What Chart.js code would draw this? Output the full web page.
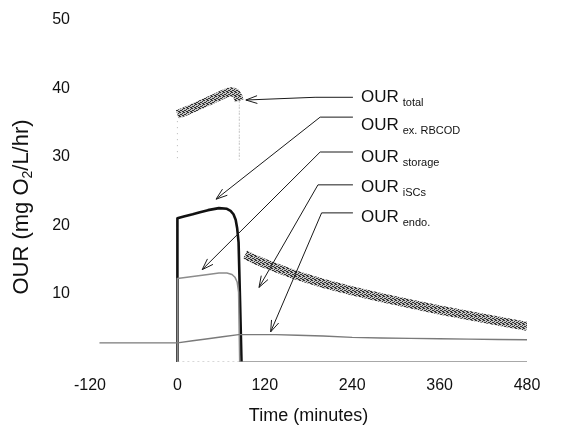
<!DOCTYPE html>
<html>
<head>
<meta charset="utf-8">
<script src="https://cdn.jsdelivr.net/npm/chart.js@4"></script>
<style>
  html, body { margin: 0; padding: 0; background: #fff; }
  #wrap { width: 566px; height: 430px; }
</style>
</head>
<body>
<div id="wrap"><canvas id="c"></canvas></div>
<script>
const FONT = "'Liberation Sans', Arial, sans-serif";

// x ticks (minutes) and y ticks (mg O2/L/hr)
const timeTicks = [-120, 0, 120, 240, 360, 480];
const ourTicks = [10, 20, 30, 40, 50];

// OUR total during the feast (stippled band), first and last points are the faint drop lines
const totalFeastTime = [0, 0, 10, 21, 31, 42, 52, 62, 69, 75, 80, 83, 85, 85];
const totalFeastOUR  = [29.8, 36.2, 36.6, 37.1, 37.6, 38.1, 38.6, 39.1, 39.4, 39.5, 39.3, 38.8, 38.2, 29.5];

// OUR total after RBCOD is gone (stippled band)
const totalFamineTime = [93, 104, 120, 160, 200, 240, 280, 320, 360, 400, 440, 480];
const totalFamineOUR  = [15.7, 15.1, 14.4, 12.8, 11.5, 10.4, 9.4, 8.5, 7.6, 6.8, 6.0, 5.2];

// OUR ex. RBCOD (black)
const exTime = [0, 0, 10, 21, 31, 42, 57, 68, 73, 77, 80, 82, 84, 86, 88];
const exOUR  = [0, 21.0, 21.3, 21.6, 21.9, 22.2, 22.5, 22.4, 22.1, 21.6, 20.8, 19.6, 17.5, 9, 0];

// OUR storage (grey)
const storageTime = [0, 0, 21, 42, 57, 68, 75, 79, 82, 84, 85.5, 480];
const storageOUR  = [0, 12.2, 12.5, 12.8, 13.0, 13.0, 12.8, 12.4, 11.7, 10.2, 0, 0];

// faint zero line under the feast
const zeroFeastTime = [0, 85];
const zeroFeastOUR  = [0, 0];

// OUR endo. (grey)
const endoTime = [-107, 0, 21, 42, 62, 84, 104, 135, 165, 200, 240, 280, 320, 360, 400, 440, 480];
const endoOUR  = [2.8, 2.8, 3.1, 3.4, 3.7, 4.0, 4.0, 4.0, 3.9, 3.8, 3.6, 3.5, 3.45, 3.4, 3.35, 3.3, 3.25];

// callouts: subscript, arrow tip, elbow, text centre (data units)
const calloutNames = ['total', 'ex. RBCOD', 'storage', 'iSCs', 'endo.'];
const calloutTipTime = [94, 53, 34, 112, 128];
const calloutTipOUR = [38.3, 23.8, 13.5, 10.9, 4.4];
const calloutElbowTime = [189, 196, 196, 193, 198];
const calloutElbowOUR = [38.7, 35.8, 30.7, 25.9, 21.8];
const calloutTextOUR = [38.9, 34.8, 30.1, 25.7, 21.3];
const leaderEndTime = 241;
const textStartTime = 252;

const pts = (xs, ys) => xs.map((t, i) => ({x: t, y: ys[i]}));

function stipple() {
  const p = document.createElement('canvas');
  p.width = 4; p.height = 4;
  const g = p.getContext('2d');
  g.fillStyle = '#c4c4c4';
  g.fillRect(0, 0, 4, 4);
  g.fillStyle = '#333';
  [[0, 0], [2, 1], [1, 2], [3, 3], [2, 3], [0, 2], [3, 0]].forEach(([a, b]) => g.fillRect(a, b, 1, 1));
  return g.createPattern(p, 'repeat');
}
const band = stipple();
const lastFeast = totalFeastTime.length - 1;
const isEdge = ctx => ctx.p0DataIndex === 0 || ctx.p1DataIndex === lastFeast;

const callouts = {
  id: 'callouts',
  afterDatasetsDraw(chart) {
    const {ctx, scales: {x, y}} = chart;
    ctx.save();
    ctx.strokeStyle = '#1a1a1a';
    ctx.fillStyle = '#111';
    ctx.lineWidth = 1;
    calloutNames.forEach((name, i) => {
      const tipX = x.getPixelForValue(calloutTipTime[i]), tipY = y.getPixelForValue(calloutTipOUR[i]);
      const elX = x.getPixelForValue(calloutElbowTime[i]), elY = y.getPixelForValue(calloutElbowOUR[i]);
      const endX = x.getPixelForValue(leaderEndTime);
      ctx.beginPath();
      ctx.moveTo(endX, elY);
      ctx.lineTo(elX, elY);
      ctx.lineTo(tipX, tipY);
      ctx.stroke();
      const a = Math.atan2(elY - tipY, elX - tipX);
      ctx.beginPath();
      [-0.33, 0.33].forEach(d => {
        ctx.moveTo(tipX + 12 * Math.cos(a + d), tipY + 12 * Math.sin(a + d));
        ctx.lineTo(tipX, tipY);
      });
      ctx.stroke();
      const tx = x.getPixelForValue(textStartTime), ty = y.getPixelForValue(calloutTextOUR[i]);
      ctx.textAlign = 'left';
      ctx.textBaseline = 'alphabetic';
      ctx.font = '17px ' + FONT;
      ctx.fillText('OUR', tx, ty + 6);
      const w = ctx.measureText('OUR').width;
      ctx.font = '11px ' + FONT;
      ctx.fillText(name, tx + w + 4, ty + 10);
    });
    ctx.restore();
  },
  afterDraw(chart) {
    // y title with a real subscript
    const {ctx, chartArea} = chart;
    ctx.save();
    ctx.translate(22, (chartArea.top + chartArea.bottom) / 2 + 16);
    ctx.rotate(-Math.PI / 2);
    ctx.fillStyle = '#111';
    ctx.textBaseline = 'middle';
    ctx.textAlign = 'left';
    const big = '22px ' + FONT, small = '14px ' + FONT;
    ctx.font = big;
    const a = 'OUR (mg O', c = '/L/hr)';
    const wa = ctx.measureText(a).width, wc = ctx.measureText(c).width;
    ctx.font = small;
    const wb = ctx.measureText('2').width;
    const sx = -(wa + wb + wc) / 2;
    ctx.font = big;
    ctx.fillText(a, sx, 0);
    ctx.font = small;
    ctx.fillText('2', sx + wa, 6);
    ctx.font = big;
    ctx.fillText(c, sx + wa + wb, 0);
    ctx.restore();
  }
};

new Chart(document.getElementById('c'), {
  type: 'scatter',
  data: {
    datasets: [
      {label: 'zero (feast)', data: pts(zeroFeastTime, zeroFeastOUR), borderColor: '#b0b0b0', borderWidth: 1, borderDash: [2, 3]},
      {label: 'OUR endo.', data: pts(endoTime, endoOUR), borderColor: '#7a7a7a', borderWidth: 1.4},
      {label: 'OUR storage', data: pts(storageTime, storageOUR), borderColor: '#8c8c8c', borderWidth: 1.5},
      {label: 'OUR ex. RBCOD', data: pts(exTime, exOUR), borderColor: '#111', borderWidth: 2.6},
      {label: 'OUR total (famine)', data: pts(totalFamineTime, totalFamineOUR), borderColor: band, borderWidth: 9},
      {label: 'OUR total', data: pts(totalFeastTime, totalFeastOUR), borderColor: band, borderWidth: 9,
        segment: {
          borderColor: ctx => isEdge(ctx) ? '#b5b5b5' : undefined,
          borderWidth: ctx => isEdge(ctx) ? 1 : undefined,
          borderDash: ctx => isEdge(ctx) ? [1, 5] : undefined
        }}
    ].map(d => Object.assign({showLine: true, pointRadius: 0, tension: 0, fill: false, borderJoinStyle: 'round'}, d))
  },
  options: {
    responsive: true,
    maintainAspectRatio: false,
    animation: false,
    devicePixelRatio: 1,
    layout: {padding: {top: 20, right: 39, left: 0, bottom: 0}},
    plugins: {legend: {display: false}, tooltip: {enabled: false}},
    scales: {
      x: {
        type: 'linear', min: -120, max: 480,
        afterBuildTicks: s => { s.ticks = timeTicks.map(v => ({value: v})); },
        afterFit: s => { s.height = 68; s.paddingLeft = 0; s.paddingRight = 0; },
        grid: {display: false, drawTicks: false},
        border: {display: false},
        ticks: {color: '#111', font: {family: FONT, size: 16}, padding: 14, maxRotation: 0},
        title: {display: true, text: 'Time (minutes)', color: '#111', font: {family: FONT, size: 18}, padding: {top: 0, bottom: 3}}
      },
      y: {
        type: 'linear', min: 0, max: 50,
        afterBuildTicks: s => { s.ticks = ourTicks.map(v => ({value: v})); },
        afterFit: s => { s.width = 90; s.paddingTop = 0; s.paddingBottom = 0; },
        grid: {display: false, drawTicks: false},
        border: {display: false},
        ticks: {color: '#111', font: {family: FONT, size: 16}, padding: 20}
      }
    }
  },
  plugins: [callouts]
});
</script>
</body>
</html>
